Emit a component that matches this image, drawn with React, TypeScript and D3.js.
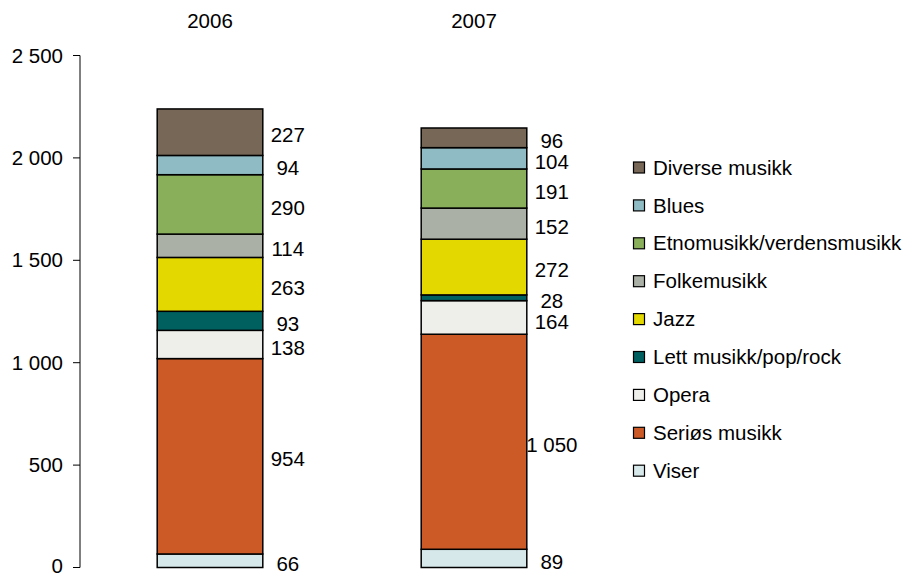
import React from "react";
import * as d3 from "d3";

const years = ["2006", "2007"];
const categories = [
  "Viser",
  "Seriøs musikk",
  "Opera",
  "Lett musikk/pop/rock",
  "Jazz",
  "Folkemusikk",
  "Etnomusikk/verdensmusikk",
  "Blues",
  "Diverse musikk",
];
const values2006 = [66, 954, 138, 93, 263, 114, 290, 94, 227];
const values2007 = [89, 1050, 164, 28, 272, 152, 191, 104, 96];
const colors = [
  "#d6e8ea",
  "#cc5a27",
  "#eeefeb",
  "#006060",
  "#e3d800",
  "#aab0a5",
  "#8aaf5a",
  "#8fbcc4",
  "#766756",
];
const yTicks = [0, 500, 1000, 1500, 2000, 2500];

const fmt = (v: number) => {
  const s = String(v);
  return s.replace(/\B(?=(\d{3})+(?!\d))/g, " ");
};

export default function App() {
  const W = 912, H = 576;
  const font = "'Liberation Sans', Arial, sans-serif";
  const fs = 20.5;
  const y = d3.scaleLinear().domain([0, 2500]).range([567.5, 55.5]);
  const x = d3.scaleBand().domain(years).range([78, 606]).paddingInner(0.6).paddingOuter(0.3);
  const data = [values2006, values2007];
  const legendOrder = categories.map((c, i) => i).reverse();

  return (
    <svg width={W} height={H} style={{ position: "absolute", left: 0, top: 0, background: "#fff" }} fontFamily={font}>
      <line x1={80} x2={80} y1={y(2500)} y2={y(0)} stroke="#000" strokeWidth={1} />
      {yTicks.map((t) => (
        <g key={t}>
          <line x1={73} x2={80} y1={y(t)} y2={y(t)} stroke="#000" strokeWidth={1} />
          <text x={63} y={Math.min(y(t), 566)} dy="0.35em" textAnchor="end" fontSize={fs} fill="#000">
            {fmt(t)}
          </text>
        </g>
      ))}
      {years.map((yr, yi) => {
        const vals = data[yi];
        const stack: { y0: number; y1: number; v: number; i: number }[] = [];
        let acc = 0;
        vals.forEach((v, i) => {
          stack.push({ y0: acc, y1: acc + v, v, i });
          acc += v;
        });
        const bx = x(yr)!;
        const bw = x.bandwidth();
        const pos = stack.map((s) => y((s.y0 + s.y1) / 2) + 3);
        const order = stack.map((s, i) => i).reverse();
        const minGap = 21;
        for (let k = 1; k < order.length; k++) {
          const prev = pos[order[k - 1]];
          if (pos[order[k]] - prev < minGap) pos[order[k]] = prev + minGap;
        }
        return (
          <g key={yr}>
            <text x={bx + bw / 2} y={21} dy="0.35em" textAnchor="middle" fontSize={fs}>
              {yr}
            </text>
            {stack.map((s) => (
              <rect
                key={s.i}
                x={bx}
                y={y(s.y1)}
                width={bw}
                height={y(s.y0) - y(s.y1)}
                fill={colors[s.i]}
                stroke="#000"
                strokeWidth={1.5}
              />
            ))}
            {stack.map((s, i) => (
              <text key={"l" + s.i} x={bx + bw + 25} y={pos[i]} dy="0.35em" textAnchor="middle" fontSize={fs}>
                {fmt(s.v)}
              </text>
            ))}
          </g>
        );
      })}
      {legendOrder.map((ci, k) => {
        const ly = 167.5 + k * 37.9;
        return (
          <g key={ci}>
            <rect x={633.5} y={ly - 5.5} width={11} height={11} fill={colors[ci]} stroke="#000" strokeWidth={1.2} />
            <text x={653} y={ly} dy="0.35em" fontSize={fs}>
              {categories[ci]}
            </text>
          </g>
        );
      })}
    </svg>
  );
}
